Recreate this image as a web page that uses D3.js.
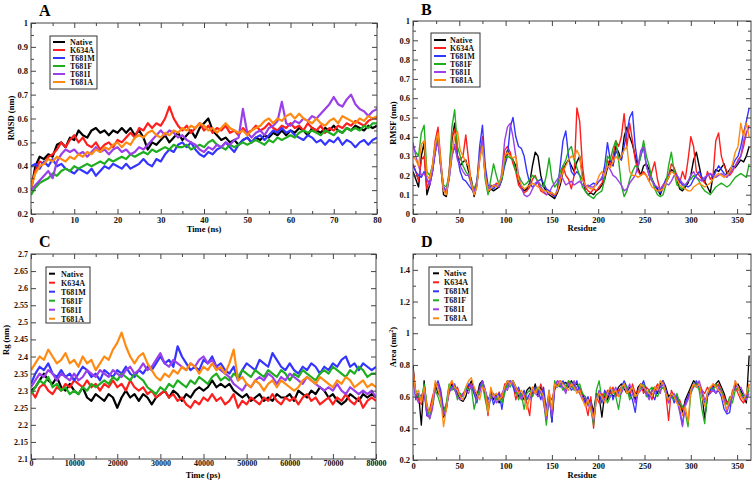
<!DOCTYPE html>
<html><head><meta charset="utf-8">
<script src="https://cdn.jsdelivr.net/npm/d3@7"></script>
<style>body{margin:0;background:#fff}svg{display:block}</style>
</head><body><svg id="c" width="756" height="481"></svg>
<script>
const seriesNames = ["Native","K634A","T681M","T681F","T681I","T681A"];
const seriesColors = ["#000000","#ff1e1e","#3434ff","#1fae1f","#9a40ea","#ff8a12"];

// ---- Panel A: RMSD vs time (ns), one value per ns 0..80
const timeNs = d3.range(0, 81, 1);
const rmsdNative = [.30,.40,.44,.43,.45,.44,.49,.50,.48,.52, .51,.55,.53,.52,.55,.56,.54,.55,.53,.55, .54,.56,.54,.56,.53,.55,.52,.47,.50,.49, .51,.53,.50,.52,.54,.51,.53,.55,.52,.56, .58,.60,.55,.53,.51,.52,.50,.51,.49,.51, .52,.50,.52,.51,.53,.52,.54,.53,.55,.53, .55,.54,.56,.55,.53,.56,.55,.54,.56,.55, .57,.55,.54,.56,.55,.57,.56,.55,.57,.56, .57];
const rmsdK634A = [.31,.38,.42,.41,.44,.45,.47,.50,.48,.51, .53,.50,.52,.49,.48,.50,.47,.49,.50,.48, .51,.50,.52,.54,.52,.56,.55,.58,.56,.58, .57,.60,.65,.60,.57,.55,.57,.54,.56,.58, .55,.57,.54,.56,.55,.57,.54,.55,.53,.56, .54,.55,.57,.55,.56,.58,.56,.55,.57,.56, .58,.56,.57,.55,.58,.56,.55,.57,.54,.56, .55,.57,.56,.58,.57,.59,.58,.57,.59,.60, .60];
const rmsdT681M = [.40,.41,.39,.42,.40,.43,.40,.41,.39,.38, .37,.39,.38,.37,.39,.36,.38,.40,.39,.41, .40,.39,.41,.39,.40,.41,.43,.41,.40,.43, .42,.45,.47,.46,.49,.50,.48,.50,.47,.45, .44,.46,.45,.47,.48,.50,.48,.46,.49,.51, .52,.50,.52,.53,.51,.53,.55,.54,.56,.54, .55,.53,.52,.51,.53,.52,.50,.51,.49,.51, .50,.52,.49,.51,.50,.48,.50,.51,.49,.51, .52];
const rmsdT681F = [.28,.31,.33,.34,.35,.37,.36,.38,.39,.38, .40,.39,.40,.41,.40,.41,.42,.41,.43,.42, .43,.44,.43,.45,.44,.45,.46,.45,.47,.46, .47,.48,.47,.49,.48,.48,.49,.47,.48,.49, .48,.50,.51,.49,.48,.47,.49,.48,.49,.50, .49,.50,.51,.50,.49,.51,.50,.52,.51,.52, .53,.52,.54,.55,.54,.55,.54,.53,.55,.54, .53,.55,.54,.56,.55,.56,.55,.57,.56,.58, .58];
const rmsdT681I = [.30,.32,.34,.36,.38,.35,.42,.45,.47,.46, .47,.45,.46,.44,.46,.48,.46,.47,.45,.47, .48,.46,.47,.45,.46,.48,.47,.49,.51,.53, .55,.53,.55,.54,.52,.53,.51,.50,.49,.47, .46,.48,.47,.49,.48,.50,.49,.51,.52,.64, .54,.52,.54,.55,.53,.56,.57,.59,.67,.58, .57,.59,.58,.60,.59,.61,.60,.62,.64,.66, .69,.66,.65,.68,.70,.66,.64,.63,.61,.63, .64];
const rmsdT681A = [.31,.37,.40,.41,.43,.42,.44,.43,.42,.44, .43,.45,.44,.46,.45,.47,.46,.48,.47,.49, .50,.48,.50,.49,.52,.53,.52,.54,.55,.53, .52,.54,.53,.55,.54,.56,.55,.57,.56,.58, .57,.55,.56,.54,.56,.58,.56,.55,.54,.55, .53,.55,.56,.57,.59,.60,.58,.60,.59,.61, .62,.60,.62,.60,.59,.58,.60,.58,.57,.59, .60,.58,.61,.60,.59,.58,.60,.59,.61,.60, .61];

// ---- Panel B: RMSF per residue, every 3rd residue 0..363
const residues = d3.range(0, 364, 3);
const rmsfNative = [.22,.18,.14,.30,.37,.10,.15,.22,.33,.40, .25,.10,.09,.20,.38,.47,.30,.25,.27,.28, .22,.18,.09,.15,.30,.38,.20,.11,.13,.12, .13,.14,.18,.28,.33,.30,.28,.25,.17,.14, .12,.13,.16,.25,.32,.30,.20,.14,.12,.10, .09,.08,.11,.15,.22,.26,.28,.25,.22,.27, .30,.20,.12,.10,.11,.10,.12,.13,.15,.18, .24,.28,.25,.35,.32,.28,.40,.45,.40,.36, .30,.24,.20,.25,.26,.23,.18,.15,.13,.10, .14,.16,.19,.23,.22,.18,.13,.12,.14,.16, .20,.28,.32,.25,.18,.17,.14,.11,.20,.23, .22,.24,.26,.21,.23,.25,.24,.26,.28,.27, .30,.35];
const rmsfK634A = [.26,.22,.17,.28,.30,.13,.18,.25,.38,.45, .28,.12,.11,.22,.40,.44,.30,.28,.30,.41, .28,.15,.10,.16,.28,.40,.22,.13,.15,.14, .16,.15,.20,.33,.35,.32,.26,.22,.15,.13, .11,.12,.14,.18,.20,.16,.12,.11,.10,.11, .10,.09,.12,.18,.25,.20,.18,.13,.20,.55, .48,.25,.14,.12,.11,.13,.12,.14,.16,.20, .28,.25,.30,.38,.35,.40,.52,.35,.47,.38, .28,.22,.20,.22,.20,.17,.22,.27,.18,.12, .15,.17,.20,.26,.24,.20,.16,.22,.18,.28, .40,.35,.22,.20,.18,.16,.22,.18,.20,.38, .42,.30,.25,.22,.20,.22,.25,.28,.30,.35, .42,.46];
const rmsfT681M = [.25,.22,.20,.19,.22,.18,.15,.22,.32,.38, .25,.14,.12,.18,.30,.35,.30,.22,.18,.17, .15,.13,.11,.16,.35,.46,.25,.15,.14,.13, .15,.14,.18,.25,.30,.45,.50,.40,.35,.34, .30,.22,.16,.14,.15,.17,.18,.16,.13,.12, .11,.09,.13,.25,.38,.43,.30,.22,.20,.22, .20,.18,.15,.14,.15,.16,.15,.17,.18,.25, .37,.28,.25,.33,.30,.28,.35,.42,.50,.53, .35,.25,.30,.35,.25,.20,.18,.15,.12,.11, .14,.18,.20,.22,.21,.20,.17,.15,.15,.14, .15,.18,.20,.22,.19,.18,.20,.21,.19,.22, .25,.23,.21,.20,.22,.25,.28,.30,.35,.42, .48,.55];
const rmsfT681F = [.35,.32,.30,.42,.46,.22,.20,.25,.35,.40, .25,.15,.14,.20,.45,.54,.35,.30,.25,.22, .20,.16,.13,.17,.30,.38,.18,.10,.18,.26, .20,.15,.18,.28,.30,.29,.28,.22,.20,.17, .15,.16,.18,.20,.19,.17,.15,.14,.20,.29, .18,.14,.16,.22,.25,.28,.33,.35,.28,.24, .20,.14,.12,.10,.09,.08,.10,.11,.12,.18, .30,.28,.34,.38,.28,.15,.09,.12,.18,.22, .25,.24,.30,.38,.30,.25,.18,.13,.10,.09, .10,.15,.25,.32,.22,.15,.14,.13,.15,.17, .18,.20,.19,.17,.14,.12,.11,.10,.12,.14, .15,.16,.15,.14,.15,.17,.19,.20,.21,.20, .19,.26];
const rmsfT681I = [.37,.30,.25,.20,.21,.18,.15,.22,.32,.38, .24,.13,.12,.18,.30,.36,.28,.25,.22,.20, .20,.15,.12,.16,.30,.38,.20,.13,.14,.15, .15,.14,.22,.38,.45,.47,.40,.30,.20,.14, .10,.09,.10,.13,.16,.17,.14,.12,.10,.11, .14,.16,.18,.20,.18,.15,.16,.17,.15,.16, .17,.15,.14,.15,.14,.14,.16,.17,.19,.22, .25,.23,.20,.19,.17,.15,.12,.13,.16,.18, .20,.25,.33,.35,.25,.20,.17,.15,.14,.13, .15,.16,.15,.17,.20,.20,.18,.16,.15,.17, .20,.22,.19,.18,.17,.19,.20,.21,.20,.19, .20,.21,.20,.19,.21,.23,.25,.27,.30,.38, .42,.45];
const rmsfT681A = [.30,.28,.25,.36,.38,.20,.18,.25,.36,.42, .27,.12,.10,.20,.32,.40,.43,.33,.30,.27, .25,.16,.10,.14,.28,.35,.20,.12,.13,.15, .14,.16,.20,.30,.32,.30,.29,.30,.18,.15, .13,.14,.15,.16,.15,.14,.13,.12,.12,.11, .11,.10,.12,.17,.22,.25,.28,.30,.29,.33, .30,.18,.15,.14,.13,.13,.16,.20,.22,.20, .25,.24,.27,.30,.28,.30,.33,.35,.22,.20, .20,.19,.20,.21,.20,.17,.14,.13,.12,.12, .13,.16,.19,.22,.21,.18,.15,.14,.13,.12, .12,.14,.15,.16,.15,.14,.15,.16,.18,.20, .21,.20,.19,.20,.22,.26,.32,.35,.47,.40, .47,.40];

// ---- Panel C: Rg vs time (ps), every 1000 ps 0..80000
const timePs = d3.range(0, 80001, 1000);
const rgNative = [2.30,2.31,2.33,2.35,2.33,2.32,2.34,2.31,2.30,2.32, 2.30,2.29,2.31,2.28,2.27,2.29,2.28,2.27,2.29,2.28, 2.25,2.28,2.30,2.28,2.29,2.27,2.29,2.28,2.26,2.28, 2.29,2.30,2.28,2.30,2.29,2.27,2.29,2.28,2.30,2.31, 2.30,2.31,2.33,2.31,2.32,2.31,2.32,2.30,2.29,2.28, 2.29,2.27,2.28,2.29,2.27,2.28,2.27,2.29,2.28,2.28, 2.29,2.27,2.30,2.29,2.28,2.30,2.29,2.31,2.30,2.28, 2.29,2.27,2.26,2.27,2.29,2.28,2.27,2.29,2.28,2.29, 2.28];
const rgK634A = [2.30,2.28,2.31,2.32,2.30,2.29,2.31,2.30,2.32,2.31, 2.33,2.32,2.31,2.33,2.31,2.32,2.30,2.32,2.31,2.33, 2.31,2.32,2.30,2.33,2.31,2.30,2.31,2.29,2.30,2.28, 2.29,2.30,2.28,2.29,2.27,2.28,2.26,2.25,2.27,2.26, 2.28,2.27,2.29,2.27,2.28,2.26,2.27,2.29,2.25,2.27, 2.26,2.28,2.27,2.26,2.28,2.27,2.29,2.27,2.26,2.28, 2.27,2.28,2.26,2.28,2.29,2.27,2.28,2.26,2.27,2.28, 2.26,2.28,2.27,2.29,2.27,2.26,2.28,2.25,2.27,2.28, 2.27];
const rgT681M = [2.32,2.35,2.37,2.36,2.38,2.35,2.34,2.36,2.34,2.35, 2.33,2.35,2.37,2.36,2.34,2.35,2.33,2.36,2.35,2.34, 2.36,2.35,2.37,2.35,2.34,2.36,2.35,2.37,2.36,2.38, 2.40,2.38,2.39,2.37,2.43,2.40,2.38,2.36,2.37,2.36, 2.39,2.38,2.40,2.37,2.38,2.36,2.35,2.37,2.33,2.36, 2.38,2.37,2.36,2.39,2.38,2.37,2.41,2.39,2.37,2.36, 2.38,2.36,2.35,2.37,2.36,2.38,2.37,2.35,2.37,2.36, 2.38,2.37,2.39,2.40,2.37,2.38,2.36,2.38,2.37,2.36, 2.37];
const rgT681F = [2.29,2.31,2.33,2.32,2.34,2.31,2.32,2.30,2.31,2.29, 2.30,2.29,2.31,2.30,2.32,2.31,2.32,2.33,2.32,2.34, 2.33,2.35,2.34,2.33,2.35,2.34,2.33,2.31,2.30,2.29, 2.31,2.30,2.32,2.31,2.33,2.32,2.31,2.33,2.32,2.34, 2.33,2.32,2.34,2.35,2.33,2.34,2.33,2.35,2.34,2.36, 2.35,2.34,2.36,2.35,2.34,2.36,2.35,2.34,2.36,2.35, 2.33,2.35,2.34,2.36,2.35,2.34,2.33,2.35,2.36,2.35, 2.37,2.36,2.35,2.34,2.36,2.35,2.37,2.36,2.34,2.35, 2.35];
const rgT681I = [2.31,2.33,2.35,2.34,2.36,2.35,2.33,2.35,2.34,2.33, 2.35,2.33,2.34,2.36,2.35,2.34,2.36,2.35,2.34,2.36, 2.35,2.34,2.36,2.37,2.35,2.36,2.38,2.36,2.37,2.39, 2.41,2.38,2.37,2.39,2.38,2.37,2.36,2.38,2.37,2.39, 2.40,2.38,2.39,2.37,2.36,2.35,2.34,2.32,2.31,2.30, 2.32,2.31,2.33,2.34,2.33,2.35,2.34,2.32,2.34,2.33, 2.35,2.34,2.33,2.32,2.34,2.33,2.32,2.31,2.30,2.31, 2.30,2.32,2.30,2.29,2.31,2.30,2.29,2.30,2.29,2.30, 2.28];
const rgT681A = [2.36,2.38,2.40,2.39,2.42,2.40,2.38,2.39,2.41,2.38, 2.39,2.37,2.40,2.38,2.39,2.36,2.38,2.40,2.39,2.42, 2.44,2.47,2.43,2.40,2.38,2.40,2.41,2.38,2.36,2.34, 2.33,2.35,2.34,2.36,2.35,2.37,2.36,2.38,2.37,2.35, 2.37,2.36,2.38,2.36,2.37,2.35,2.38,2.42,2.33,2.34, 2.32,2.31,2.33,2.32,2.30,2.32,2.33,2.31,2.33,2.32, 2.31,2.30,2.31,2.33,2.34,2.33,2.32,2.34,2.33,2.32, 2.31,2.33,2.32,2.34,2.33,2.31,2.32,2.33,2.31,2.32, 2.31];

// ---- Panel D: SASA area per residue, every 3rd residue 0..363
const areaNative = [.80,.60,.62,.42,.70,.52,.50,.55,.68,.62, .60,.47,.52,.64,.68,.66,.62,.58,.57,.60, .66,.70,.64,.60,.68,.70,.60,.52,.62,.58, .62,.56,.60,.66,.70,.69,.70,.66,.60,.62, .58,.64,.66,.62,.68,.60,.66,.60,.45,.62, .44,.68,.66,.70,.68,.69,.66,.70,.67,.68, .65,.62,.58,.55,.58,.50,.62,.60,.47,.62, .58,.64,.60,.62,.66,.68,.65,.62,.66,.64, .58,.66,.68,.64,.62,.60,.64,.66,.62,.68, .70,.66,.60,.62,.58,.60,.55,.50,.58,.62, .66,.70,.68,.66,.62,.46,.60,.64,.66,.68, .70,.66,.62,.56,.58,.62,.66,.68,.64,.60, .56,.86];
const areaK634A = [.78,.62,.58,.55,.66,.48,.52,.60,.66,.68, .62,.50,.55,.66,.70,.64,.66,.60,.62,.64, .66,.68,.62,.58,.66,.68,.62,.48,.64,.60, .58,.63,.58,.68,.66,.70,.68,.58,.64,.60, .62,.56,.48,.66,.64,.62,.68,.62,.50,.60, .58,.66,.70,.68,.66,.64,.70,.66,.68,.64, .66,.60,.56,.48,.60,.40,.60,.56,.62,.58, .64,.62,.66,.60,.64,.66,.68,.64,.60,.68, .62,.64,.68,.62,.66,.64,.58,.64,.68,.66, .68,.62,.45,.64,.60,.56,.58,.52,.56,.60, .64,.68,.66,.68,.64,.62,.66,.62,.68,.66, .68,.64,.60,.56,.54,.64,.66,.62,.58,.56, .60,.68];
const areaT681M = [.72,.58,.62,.60,.64,.48,.47,.55,.66,.70, .64,.52,.54,.64,.66,.68,.62,.62,.60,.64, .68,.66,.62,.56,.66,.70,.64,.58,.62,.55, .60,.62,.52,.64,.68,.70,.66,.62,.66,.60, .64,.58,.62,.60,.66,.64,.58,.66,.52,.64, .44,.64,.68,.66,.70,.66,.68,.64,.66,.70, .62,.60,.56,.60,.54,.48,.60,.62,.56,.64, .60,.66,.58,.64,.62,.66,.70,.66,.62,.58, .50,.64,.66,.70,.64,.60,.62,.58,.64,.66, .68,.64,.58,.62,.56,.60,.52,.42,.56,.60, .64,.66,.70,.66,.60,.56,.62,.64,.66,.62, .64,.60,.52,.49,.50,.62,.68,.66,.62,.58, .60,.64];
const areaT681F = [.70,.64,.60,.58,.68,.56,.46,.54,.64,.60, .54,.50,.56,.68,.64,.66,.58,.62,.60,.66, .64,.66,.52,.60,.64,.68,.58,.50,.60,.62, .58,.60,.56,.62,.68,.66,.70,.64,.58,.62, .52,.62,.64,.60,.64,.66,.62,.58,.42,.60, .50,.70,.66,.68,.64,.66,.70,.68,.64,.66, .68,.62,.60,.56,.52,.42,.64,.70,.58,.62, .56,.60,.64,.60,.52,.64,.68,.66,.58,.62, .60,.62,.66,.68,.60,.64,.66,.62,.60,.64, .66,.62,.56,.60,.58,.62,.56,.54,.50,.41, .62,.66,.68,.64,.52,.43,.62,.66,.64,.68, .66,.64,.58,.55,.60,.56,.64,.66,.62,.60, .58,.66];
const areaT681I = [.74,.60,.56,.60,.64,.50,.46,.52,.66,.68, .60,.48,.53,.62,.66,.64,.60,.58,.62,.64, .62,.68,.64,.58,.62,.70,.64,.56,.58,.62, .56,.58,.62,.66,.64,.70,.68,.64,.62,.58, .62,.60,.58,.64,.62,.60,.64,.56,.46,.58, .48,.66,.70,.68,.66,.62,.68,.66,.70,.64, .62,.58,.60,.54,.56,.44,.58,.64,.60,.58, .62,.60,.62,.66,.60,.62,.66,.64,.68,.62, .56,.62,.64,.66,.62,.58,.64,.62,.66,.62, .70,.64,.56,.60,.62,.58,.50,.41,.54,.58, .62,.68,.66,.70,.64,.58,.60,.62,.64,.62, .66,.62,.58,.50,.56,.60,.70,.64,.66,.62, .58,.62];
const areaT681A = [.76,.62,.64,.56,.66,.54,.50,.56,.70,.64, .58,.41,.52,.66,.70,.66,.64,.60,.58,.66, .70,.72,.66,.62,.58,.66,.64,.50,.66,.60, .62,.58,.60,.66,.70,.68,.70,.66,.62,.64, .60,.52,.60,.66,.62,.66,.64,.60,.48,.64, .52,.68,.66,.70,.68,.66,.64,.68,.66,.62, .64,.58,.54,.58,.52,.46,.58,.62,.60,.56, .62,.66,.62,.64,.60,.66,.68,.62,.64,.66, .60,.62,.68,.66,.64,.62,.60,.66,.64,.70, .68,.62,.58,.62,.60,.56,.54,.48,.54,.44, .64,.68,.66,.68,.60,.54,.62,.66,.68,.66, .64,.62,.56,.52,.58,.62,.70,.66,.60,.58, .62,.68];

// tick values
const ticksA_x = d3.range(0, 81, 10), minorA_x = d3.range(5, 80, 10);
const ticksA_y = [0.2,0.3,0.4,0.5,0.6,0.7,0.8,0.9,1], minorA_y = [0.25,0.35,0.45,0.55,0.65,0.75,0.85,0.95];
const ticksRes = d3.range(0, 351, 50), minorRes = [25,75,125,175,225,275,325];
const ticksB_y = [0,0.1,0.2,0.3,0.4,0.5,0.6,0.7,0.8,0.9,1], minorB_y = [0.05,0.15,0.25,0.35,0.45,0.55,0.65,0.75,0.85,0.95];
const ticksC_x = d3.range(0, 80001, 10000), minorC_x = d3.range(5000, 80000, 10000);
const ticksC_y = [2.1,2.15,2.2,2.25,2.3,2.35,2.4,2.45,2.5,2.55,2.6,2.65,2.7];
const ticksD_y = [0.2,0.4,0.6,0.8,1,1.2,1.4], minorD_y = [0.3,0.5,0.7,0.9,1.1,1.3,1.5];

const FONT = '"Liberation Serif","Times New Roman",serif';
const svg = d3.select("#c");
const fmt = v => String(+(+v).toFixed(3));

function panel(cfg) {
  const x = d3.scaleLinear().domain(cfg.xDomain).range([cfg.left, cfg.right]);
  const y = d3.scaleLinear().domain(cfg.yDomain).range([cfg.bottom, cfg.top]);
  const g = svg.append("g");
  const cid = "clip" + cfg.key;
  g.append("clipPath").attr("id", cid).append("rect")
    .attr("x", cfg.left).attr("y", cfg.top)
    .attr("width", cfg.right - cfg.left).attr("height", cfg.bottom - cfg.top);
  const lg = g.append("g").attr("clip-path", `url(#${cid})`);
  cfg.series.forEach((vals, i) => {
    const line = d3.line().x((d, j) => x(cfg.xs[j])).y(d => y(d));
    lg.append("path").datum(vals).attr("d", line)
      .attr("fill", "none").attr("stroke", seriesColors[i])
      .attr("stroke-width", cfg.sw).attr("stroke-linejoin", "round");
  });
  // frame
  g.append("rect").attr("x", cfg.left).attr("y", cfg.top)
    .attr("width", cfg.right - cfg.left).attr("height", cfg.bottom - cfg.top)
    .attr("fill", "none").attr("stroke", "#444").attr("stroke-width", 1);
  const style = (a) => {
    a.select(".domain").remove();
    a.selectAll("line").attr("stroke", "#444");
    a.selectAll("text").attr("font-family", FONT).attr("font-size", cfg.tickFs || 8.5)
      .attr("font-weight", "bold").attr("fill", "#111");
  };
  const add = (axis, tx, ty) => g.append("g").attr("transform", `translate(${tx},${ty})`).call(axis).call(style);
  add(d3.axisBottom(x).tickValues(cfg.xMajor).tickSize(-5).tickPadding(cfg.xPad || 3).tickFormat(fmt), 0, cfg.bottom);
  add(d3.axisBottom(x).tickValues(cfg.xMinor).tickSize(-3).tickFormat(""), 0, cfg.bottom);
  add(d3.axisTop(x).tickValues(cfg.xMajor).tickSize(-5).tickFormat(""), 0, cfg.top);
  add(d3.axisTop(x).tickValues(cfg.xMinor).tickSize(-3).tickFormat(""), 0, cfg.top);
  add(d3.axisLeft(y).tickValues(cfg.yMajor).tickSize(-5).tickPadding(3).tickFormat(fmt), cfg.left, 0);
  add(d3.axisRight(y).tickValues(cfg.yMajor).tickSize(-5).tickFormat(""), cfg.right, 0);
  if (cfg.yMinor) {
    add(d3.axisLeft(y).tickValues(cfg.yMinor).tickSize(-3).tickFormat(""), cfg.left, 0);
    add(d3.axisRight(y).tickValues(cfg.yMinor).tickSize(-3).tickFormat(""), cfg.right, 0);
  }
  // panel letter
  svg.append("text").attr("x", cfg.letter[1]).attr("y", cfg.letter[2]).text(cfg.letter[0])
    .attr("font-family", FONT).attr("font-weight", "bold").attr("font-size", 16);
  // axis titles
  svg.append("text").attr("x", cfg.xTitle[1]).attr("y", cfg.xTitle[2]).text(cfg.xTitle[0])
    .attr("text-anchor", "middle").attr("font-family", FONT).attr("font-weight", "bold").attr("font-size", 8.5);
  const yt = svg.append("text").attr("transform", `translate(${cfg.yTitle[1]},${cfg.yTitle[2]}) rotate(-90)`)
    .attr("text-anchor", "middle").attr("font-family", FONT).attr("font-weight", "bold").attr("font-size", 8.5);
  if (cfg.yTitleSup) {
    yt.append("tspan").text(cfg.yTitle[0]);
    yt.append("tspan").text(cfg.yTitleSup).attr("font-size", 6).attr("dy", -3.5);
    yt.append("tspan").text(")").attr("dy", 3.5);
  } else yt.text(cfg.yTitle[0]);
  // legend
  const L = cfg.legend;
  g.append("rect").attr("x", L.x0).attr("y", L.y0).attr("width", L.x1 - L.x0).attr("height", L.y1 - L.y0)
    .attr("fill", "#fff").attr("stroke", "#333").attr("stroke-width", 1);
  seriesNames.forEach((n, i) => {
    const yy = L.row0 + i * L.step;
    g.append("line").attr("x1", L.lx0).attr("x2", L.lx1).attr("y1", yy).attr("y2", yy)
      .attr("stroke", seriesColors[i]).attr("stroke-width", L.lw);
    g.append("text").attr("x", L.tx).attr("y", yy + 2.8).text(n)
      .attr("font-family", FONT).attr("font-weight", "bold").attr("font-size", 8).attr("fill", "#111");
  });
}

panel({
  key: "A", left: 31, right: 377, top: 23, bottom: 214,
  xDomain: [0, 80], yDomain: [0.2, 1], xs: timeNs,
  series: [rmsdNative, rmsdK634A, rmsdT681M, rmsdT681F, rmsdT681I, rmsdT681A], sw: 2.2,
  xMajor: ticksA_x, xMinor: minorA_x, yMajor: ticksA_y, yMinor: minorA_y, tickFs: 8.5,
  letter: ["A", 39, 16], xTitle: ["Time (ns)", 204, 232], yTitle: ["RMSD (nm)", 14, 118],
  legend: {x0: 50, x1: 97, y0: 36, y1: 89, row0: 42, step: 8, lx0: 53, lx1: 65, tx: 70, lw: 2}
});
panel({
  key: "B", left: 413, right: 751, top: 21, bottom: 214,
  xDomain: [0, 365], yDomain: [0, 1], xs: residues,
  series: [rmsfNative, rmsfK634A, rmsfT681M, rmsfT681F, rmsfT681I, rmsfT681A], sw: 1.4,
  xMajor: ticksRes, xMinor: minorRes, yMajor: ticksB_y, yMinor: minorB_y, tickFs: 8.5,
  letter: ["B", 421, 15], xTitle: ["Residue", 582, 231], yTitle: ["RMSF (nm)", 396, 123],
  legend: {x0: 431, x1: 480, y0: 33, y1: 87, row0: 40, step: 8, lx0: 434, lx1: 446, tx: 450, lw: 2}
});
panel({
  key: "C", left: 31, right: 376, top: 254, bottom: 459,
  xDomain: [0, 80000], yDomain: [2.1, 2.7], xs: timePs,
  series: [rgNative, rgK634A, rgT681M, rgT681F, rgT681I, rgT681A], sw: 2.2,
  xMajor: ticksC_x, xMinor: minorC_x, yMajor: ticksC_y, yMinor: null, tickFs: 8, xPad: 1.5,
  letter: ["C", 39, 247], xTitle: ["Time (ps)", 203, 477.5], yTitle: ["Rg (nm)", 9, 340],
  legend: {x0: 46, x1: 90, y0: 267, y1: 323, row0: 273.7, step: 9, lx0: 49, lx1: 55, tx: 61, lw: 2}
});
panel({
  key: "D", left: 413, right: 751, top: 254, bottom: 460,
  xDomain: [0, 365], yDomain: [0.2, 1.5], xs: residues,
  series: [areaNative, areaK634A, areaT681M, areaT681F, areaT681I, areaT681A], sw: 1.3,
  xMajor: ticksRes, xMinor: minorRes, yMajor: ticksD_y, yMinor: minorD_y, tickFs: 8.5,
  letter: ["D", 421, 247], xTitle: ["Residue", 582, 477.5], yTitle: ["Area (nm", 396, 347], yTitleSup: "2",
  legend: {x0: 429, x1: 472, y0: 267, y1: 325, row0: 273.3, step: 9, lx0: 433, lx1: 439, tx: 444, lw: 2}
});
</script></body></html>
